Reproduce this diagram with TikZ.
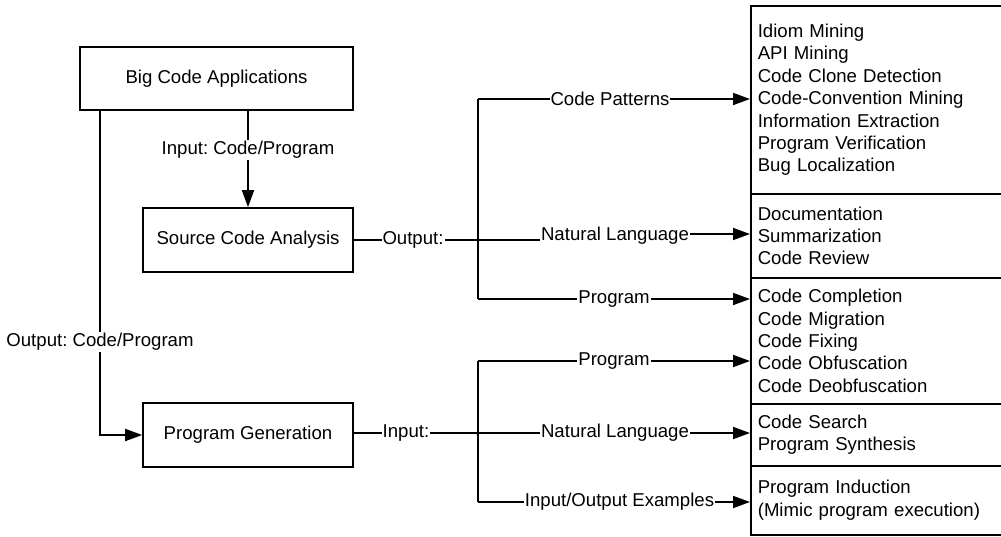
\documentclass[tikz,border=0pt]{standalone}
\usepackage{fontspec}
\setmainfont{Liberation Sans}
\usetikzlibrary{arrows.meta}
\frenchspacing
\begin{document}
\begin{tikzpicture}[x=1pt,y=-1pt,
  every node/.style={font=\fontsize{18.6pt}{22.4pt}\selectfont},
  box/.style={draw,line width=1.6pt,inner sep=0pt},
  rbox/.style={draw,line width=1.6pt,anchor=north west,text width=250pt,inner xsep=7pt,inner ysep=0pt,align=left},
  lbl/.style={fill=white,inner xsep=1pt,inner ysep=1pt},
  ln/.style={line width=1.8pt},
  arr/.style={line width=1.8pt,-{Triangle[length=17pt,width=12pt]}}]
\clip (0,0) rectangle (1001,537);
\fill[white] (0,0) rectangle (1001,537);
% left boxes
\node[box,minimum width=273pt,minimum height=63pt] (big) at (216.5,78.5) {Big Code Applications};
\node[box,minimum width=210pt,minimum height=64pt] (sca) at (248,240) {Source Code Analysis};
\node[box,minimum width=210pt,minimum height=64pt] (pg) at (248,435) {Program Generation};
% right boxes
\node[rbox,minimum height=188pt] (b1) at (750,5) {Idiom Mining\\API Mining\\Code Clone Detection\\Code-Convention Mining\\Information Extraction\\Program Verification\\Bug Localization};
\node[rbox,minimum height=84pt] (b2) at (750,193) {Documentation\\Summarization\\Code Review};
\node[rbox,minimum height=126pt] (b3) at (750,277) {Code Completion\\Code Migration\\Code Fixing\\Code Obfuscation\\Code Deobfuscation};
\node[rbox,minimum height=62pt] (b4) at (750,403) {Code Search\\Program Synthesis};
\node[rbox,minimum height=69pt] (b5) at (750,465) {Program Induction\\(Mimic program execution)};
% big -> sca
\draw[arr] (sca.north |- big.south) -- (sca.north);
\node[lbl] (lin) at (248,150) {Input: Code/Program};
% big -> pg
\coordinate (lt) at (100,110);
\draw[arr] (lt) |- (pg.west);
\node[lbl] (lout) at (100,342) {Output: Code/Program};
% sca outputs
\coordinate (br1) at (478,240);
\draw[ln] (sca.east) -- (br1);
\node[lbl] (oout) at (413,240) {Output:};
\coordinate (t1) at (478,99);
\coordinate (t3) at (478,299);
\draw[ln] (t1) -- (t3);
\draw[arr] (t1) -- (b1.west |- t1);
\node[lbl] (cp) at (610,99) {Code Patterns};
\node[inner xsep=1pt] (nl1) at (615,236) {Natural Language};
\draw[ln] (br1) -- (nl1.west |- br1);
\draw[arr] (nl1.east |- 0,234) -- (b2.west |- 0,234);
\draw[arr] (t3) -- (b3.west |- t3);
\node[lbl] (pr1) at (614,299) {Program};
% pg inputs
\coordinate (br2) at (478,433);
\draw[ln] (pg.east |- br2) -- (br2);
\node[lbl] (iin) at (406,433) {Input:};
\coordinate (u1) at (478,361);
\coordinate (u3) at (478,502);
\draw[ln] (u1) -- (u3);
\draw[arr] (u1) -- (b3.west |- u1);
\node[lbl] (pr2) at (614,361) {Program};
\draw[arr] (br2) -- (b4.west |- br2);
\node[lbl] (nl2) at (615,433) {Natural Language};
\draw[arr] (u3) -- (b5.west |- u3);
\node[lbl] (ioe) at (619.5,502) {Input/Output Examples};
\end{tikzpicture}
\end{document}
